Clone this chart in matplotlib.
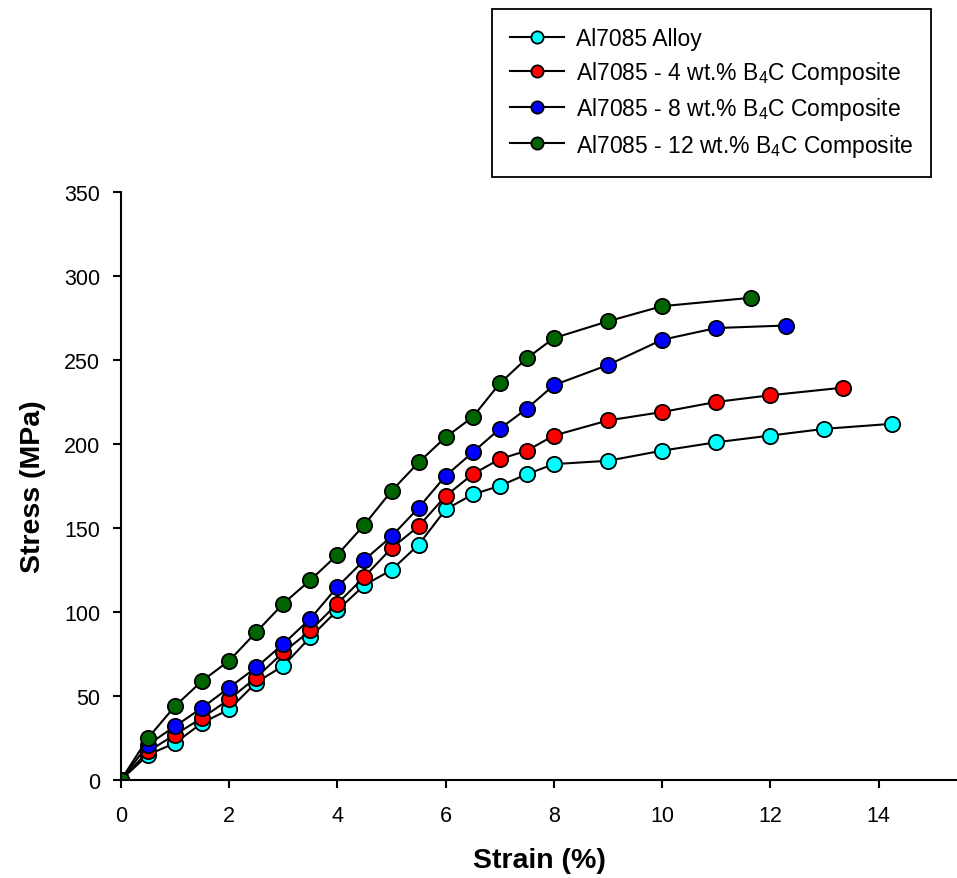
import matplotlib
matplotlib.use("Agg")
import matplotlib.pyplot as plt

plt.rcParams['font.family'] = ['Liberation Sans', 'DejaVu Sans']
plt.rcParams['mathtext.fontset'] = 'custom'
plt.rcParams['mathtext.rm'] = 'Liberation Sans'

# strain (%) and stress (MPa)
strain_alloy = [0, 0.5, 1, 1.5, 2, 2.5, 3, 3.5, 4, 4.5, 5, 5.5, 6, 6.5, 7, 7.5, 8, 9, 10, 11, 12, 13, 14.25]
stress_alloy = [0, 15, 22, 34, 42, 58, 68, 85, 101, 116, 125, 140, 161, 170, 175, 182, 188, 190, 196, 201, 205, 209, 212]

strain_4 = [0, 0.5, 1, 1.5, 2, 2.5, 3, 3.5, 4, 4.5, 5, 5.5, 6, 6.5, 7, 7.5, 8, 9, 10, 11, 12, 13.34]
stress_4 = [0, 17, 27, 37, 48, 61, 76, 89, 105, 121, 138, 151, 169, 182, 191, 196, 205, 214, 219, 225, 229, 233.5]

strain_8 = [0, 0.5, 1, 1.5, 2, 2.5, 3, 3.5, 4, 4.5, 5, 5.5, 6, 6.5, 7, 7.5, 8, 9, 10, 11, 12.29]
stress_8 = [0, 21, 32, 43, 55, 67, 81, 96, 115, 131, 145, 162, 181, 195, 209, 221, 235, 247, 262, 269, 270.5]

strain_12 = [0, 0.5, 1, 1.5, 2, 2.5, 3, 3.5, 4, 4.5, 5, 5.5, 6, 6.5, 7, 7.5, 8, 9, 10, 11.64]
stress_12 = [0, 25, 44, 59, 71, 88, 105, 119, 134, 152, 172, 189, 204, 216, 236, 251, 263, 273, 282, 287]

labels = ['Al7085 Alloy',
          r'Al7085 - 4 wt.% B$\mathregular{_4}$C Composite',
          r'Al7085 - 8 wt.% B$\mathregular{_4}$C Composite',
          r'Al7085 - 12 wt.% B$\mathregular{_4}$C Composite']
colors = ['#00ffff', '#ff0000', '#0000ff', '#006400']

fig = plt.figure(figsize=(9.57, 8.79), dpi=100)
ax = fig.add_axes([0.1264, 0.1115, 0.8736, 0.669])

series = [(strain_alloy, stress_alloy), (strain_4, stress_4), (strain_8, stress_8), (strain_12, stress_12)]
for (x, y), c, lab in zip(series, colors, labels):
    ax.plot(x, y, color='black', lw=1.5, marker='o', markersize=11,
            markerfacecolor=c, markeredgecolor='black', markeredgewidth=1.3, label=lab)

ax.set_xlim(0, 15.45)
ax.set_ylim(0, 350)
ax.set_xticks([0, 2, 4, 6, 8, 10, 12, 14])
ax.set_yticks(range(0, 351, 50))
ax.spines['top'].set_visible(False)
ax.spines['right'].set_visible(False)
for s in ['left', 'bottom']:
    ax.spines[s].set_linewidth(1.5)
ax.tick_params(direction='out', length=6, width=1.5, labelsize=15.5)
ax.tick_params(axis='y', pad=9)
ax.tick_params(axis='x', pad=12)

ax.set_xlabel('Strain (%)', fontsize=20.5, fontweight='bold', labelpad=15)
ax.set_ylabel('Stress (MPa)', fontsize=20.5, fontweight='bold', labelpad=13)

leg = fig.legend(loc='upper left', bbox_to_anchor=(0.514, 0.989), fontsize=16.5,
                 frameon=True, fancybox=False, edgecolor='black', framealpha=1,
                 handlelength=2.35, borderpad=0.8, labelspacing=0.4, handletextpad=0.5,
                 borderaxespad=0, markerscale=0.8)
leg.get_frame().set_linewidth(1.3)

fig.savefig('out.png', dpi=100)
